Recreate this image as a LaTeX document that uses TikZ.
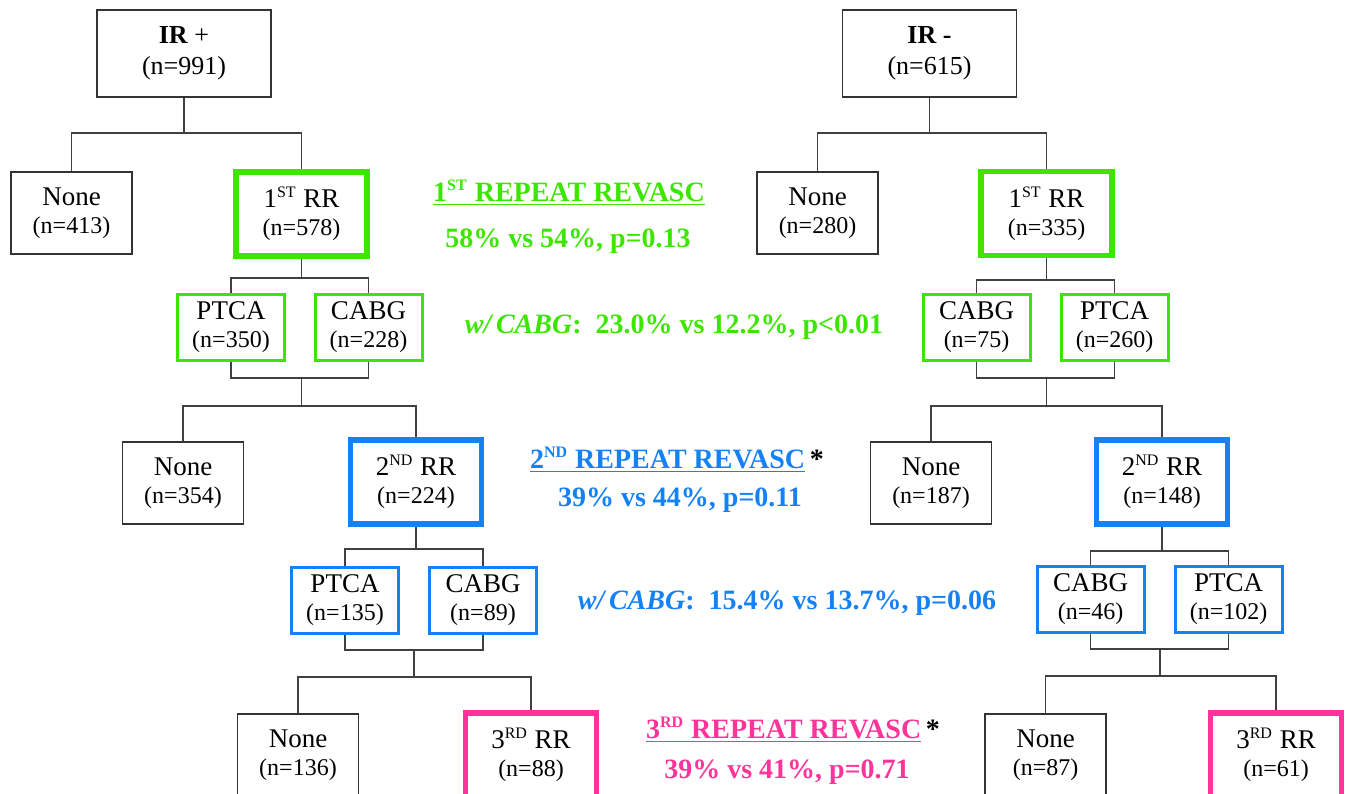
\documentclass[tikz,border=0pt]{standalone}
\usepackage{fontspec}
\setmainfont{Liberation Serif}
\usetikzlibrary{positioning}
\definecolor{rrgreen}{RGB}{60,230,0}
\definecolor{rrblue}{RGB}{20,130,245}
\definecolor{rrpink}{RGB}{255,51,153}
\newcommand{\ncount}[1]{{\fontsize{12}{14}\selectfont(n=#1)}}
\newcommand{\ordsup}[1]{\textsuperscript{\fontsize{8}{8}\selectfont #1}}

\begin{document}
\begin{tikzpicture}[
    x=0.5pt, y=-0.5pt,
    font=\fontsize{13.5}{14}\selectfont,
    nonebox/.style={draw=black!80, line width=0.7pt, align=center, inner sep=1pt,
                    minimum width=60.5pt, minimum height=41pt},
    rootbox/.style={nonebox, minimum width=87pt, minimum height=43.5pt,
                    font=\fontsize{13}{15.5}\selectfont},
    rrbox/.style={draw=#1, line width=2.8pt, align=center, inner sep=1pt,
                  minimum width=65.5pt, minimum height=42pt},
    procbox/.style={draw=#1, line width=1.5pt, align=center, inner sep=1pt,
                    minimum width=53.5pt, minimum height=33pt},
    link/.style={draw=black!75, line width=0.65pt},
    stat/.style={font=\fontsize{14}{16}\selectfont\bfseries, text=#1},
]
\clip (0,0) rectangle (1347,793);

% IR + side
\node[rootbox] (irp) at (184,53.5) {\textbf{IR} +\\(n=991)};
\node[nonebox] (none1l) at (71.5,213) {None\\\ncount{413}};
\node[rrbox=rrgreen] (rr1l) at (301.5,214) {1\ordsup{ST} RR\\\ncount{578}};
\node[procbox=rrgreen] (ptca1l) at (231,327.5) {PTCA\\\ncount{350}};
\node[procbox=rrgreen] (cabg1l) at (368.5,327.5) {CABG\\\ncount{228}};
\node[nonebox] (none2l) at (183,483) {None\\\ncount{354}};
\node[rrbox=rrblue] (rr2l) at (416,482) {2\ordsup{ND} RR\\\ncount{224}};
\node[procbox=rrblue] (ptca2l) at (345,600) {PTCA\\\ncount{135}};
\node[procbox=rrblue] (cabg2l) at (483,600) {CABG\\\ncount{89}};
\node[nonebox] (none3l) at (298,755) {None\\\ncount{136}};
\node[rrbox=rrpink] (rr3l) at (531,755) {3\ordsup{RD} RR\\\ncount{88}};

\coordinate (j1l) at (184,133);
\coordinate (j2l) at (301.5,278);
\coordinate (m2l) at (301.5,378);
\coordinate (j3l) at (301.5,406);
\coordinate (j4l) at (416,549);
\coordinate (m4l) at (414,650);
\coordinate (j5l) at (414,677);
\draw[link] (irp.south) -- (j1l);
\draw[link] (none1l.north) |- (j1l) -| (rr1l.north);
\draw[link] (rr1l.south) -- (j2l);
\draw[link] (ptca1l.north) |- (j2l) -| (cabg1l.north);
\draw[link] (ptca1l.south) |- (m2l) -| (cabg1l.south);
\draw[link] (m2l) -- (j3l);
\draw[link] (none2l.north) |- (j3l) -| (rr2l.north);
\draw[link] (rr2l.south) -- (j4l);
\draw[link] (ptca2l.north) |- (j4l) -| (cabg2l.north);
\draw[link] (ptca2l.south) |- (m4l) -| (cabg2l.south);
\draw[link] (m4l) -- (j5l);
\draw[link] (none3l.north) |- (j5l) -| (rr3l.north);

% IR - side
\node[rootbox] (irm) at (929.5,53.5) {\textbf{IR -}\\(n=615)};
\node[nonebox] (none1r) at (817.5,213) {None\\\ncount{280}};
\node[rrbox=rrgreen] (rr1r) at (1046.5,213.5) {1\ordsup{ST} RR\\\ncount{335}};
\node[procbox=rrgreen] (cabg1r) at (976.5,327.5) {CABG\\\ncount{75}};
\node[procbox=rrgreen] (ptca1r) at (1114.5,327.5) {PTCA\\\ncount{260}};
\node[nonebox] (none2r) at (931,483) {None\\\ncount{187}};
\node[rrbox=rrblue] (rr2r) at (1162,482) {2\ordsup{ND} RR\\\ncount{148}};
\node[procbox=rrblue] (cabg2r) at (1090.5,599.5) {CABG\\\ncount{46}};
\node[procbox=rrblue] (ptca2r) at (1228.5,599.5) {PTCA\\\ncount{102}};
\node[nonebox] (none3r) at (1045.5,755) {None\\\ncount{87}};
\node[rrbox=rrpink] (rr3r) at (1276,755) {3\ordsup{RD} RR\\\ncount{61}};

\coordinate (j1r) at (929.5,133);
\coordinate (j2r) at (1046.5,280);
\coordinate (m2r) at (1046.5,378);
\coordinate (j3r) at (1046.5,406);
\coordinate (j4r) at (1162,551);
\coordinate (m4r) at (1160,649);
\coordinate (j5r) at (1160,676);
\draw[link] (irm.south) -- (j1r);
\draw[link] (none1r.north) |- (j1r) -| (rr1r.north);
\draw[link] (rr1r.south) -- (j2r);
\draw[link] (cabg1r.north) |- (j2r) -| (ptca1r.north);
\draw[link] (cabg1r.south) |- (m2r) -| (ptca1r.south);
\draw[link] (m2r) -- (j3r);
\draw[link] (none2r.north) |- (j3r) -| (rr2r.north);
\draw[link] (rr2r.south) -- (j4r);
\draw[link] (cabg2r.north) |- (j4r) -| (ptca2r.north);
\draw[link] (cabg2r.south) |- (m4r) -| (ptca2r.south);
\draw[link] (m4r) -- (j5r);
\draw[link] (none3r.north) |- (j5r) -| (rr3r.north);

% comparisons
\node[stat=rrgreen] (hdr1) at (569,193) {\underline{1\ordsup{ST} REPEAT REVASC}};
\node[stat=rrgreen] (res1) at (568,241) {58\% vs 54\%, p=0.13};
\node[stat=rrgreen] (cab1) at (674,327) {\textit{w/\,CABG}:\ \ 23.0\% vs 12.2\%, p<0.01};
\node[stat=rrblue] (hdr2) at (677,460) {\underline{2\ordsup{ND} REPEAT REVASC}\textcolor{black}{\,*}};
\node[stat=rrblue] (res2) at (680,500) {39\% vs 44\%, p=0.11};
\node[stat=rrblue] (cab2) at (787,603) {\textit{w/\,CABG}:\ \ 15.4\% vs 13.7\%, p=0.06};
\node[stat=rrpink] (hdr3) at (793,730) {\underline{3\ordsup{RD} REPEAT REVASC}\textcolor{black}{\,*}};
\node[stat=rrpink] (res3) at (787,772) {39\% vs 41\%, p=0.71};
\end{tikzpicture}
\end{document}
